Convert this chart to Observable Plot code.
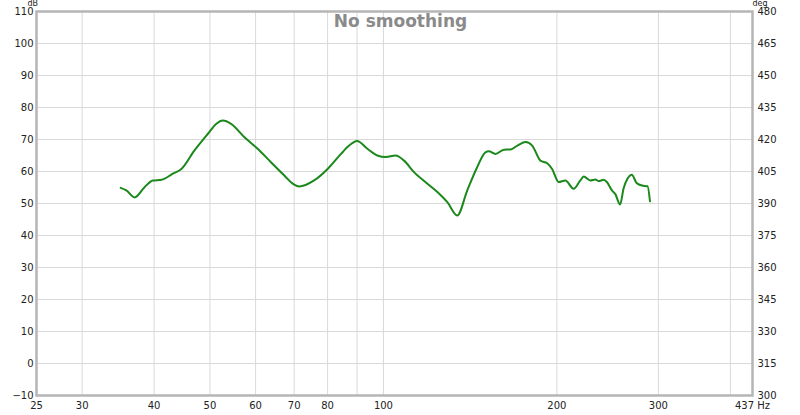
<!DOCTYPE html>
<html><head><meta charset="utf-8">
<script src="https://cdn.jsdelivr.net/npm/d3@7"></script>
<script src="https://cdn.jsdelivr.net/npm/@observablehq/plot@0.6"></script>
<style>body{margin:0;background:#fff}</style>
</head><body><div id="chart"></div>
<script>
const freq = [35.0, 35.8, 37.0, 38.5, 39.8, 41.2, 43.1, 44.6, 47.0, 49.6, 51.3, 52.6, 54.4, 57.4, 60.5, 63.8, 67.3, 69.6, 71.4, 75.8, 80.0, 84.4, 87.2, 90.0, 93.8, 97.6, 100.9, 105, 108.6, 113, 119.2, 124.2, 129.1, 134.3, 139.8, 145.5, 150.3, 152.4, 156.5, 161.8, 166.2, 170.8, 176.5, 181.2, 187.3, 192.4, 196.2, 201.4, 206.9, 213.8, 219.6, 222.6, 228.6, 233.2, 236.3, 241, 244.2, 249.2, 252.5, 257.5, 261, 265.1, 269.8, 275, 281, 287.3, 290.1];
const spl = [54.9, 54.1, 51.9, 55.1, 57.2, 57.4, 59.3, 60.8, 66.6, 71.8, 74.9, 75.9, 74.9, 70.7, 67.1, 62.9, 58.75, 56.2, 55.3, 57.2, 60.8, 65.5, 68.1, 69.5, 67.1, 65.0, 64.5, 65.0, 63.4, 59.8, 56.2, 53.5, 50.4, 46.25, 54.1, 61.4, 66.0, 66.3, 65.5, 66.8, 66.9, 68.1, 69.2, 68.1, 63.4, 62.6, 60.8, 56.7, 57.2, 54.6, 57.2, 58.4, 57.2, 57.5, 57.0, 57.4, 56.7, 54.1, 53.0, 49.7, 54.6, 57.7, 59.0, 56.4, 55.6, 55.4, 50.7];
const xTicks = [25, 30, 40, 50, 60, 70, 80, 90, 100, 200, 300, 437];
const xGrid = [30, 40, 50, 60, 70, 80, 90, 100, 200, 300, 400];
const dbTicks = [-10, 0, 10, 20, 30, 40, 50, 60, 70, 80, 90, 100, 110];
const degTicks = [300, 315, 330, 345, 360, 375, 390, 405, 420, 435, 450, 465, 480];
const title = "No smoothing";
const leftUnit = "dB";
const rightUnit = "deg";
const xUnit = "Hz";

const data = freq.map((f, i) => ({f, db: spl[i]}));
const chart = Plot.plot({
  width: 800, height: 415,
  marginLeft: 36, marginRight: 48, marginTop: 11, marginBottom: 20,
  style: {fontFamily: "DejaVu Sans", fontSize: "10px", background: "#fff", color: "#222", overflow: "visible"},
  x: {type: "log", domain: [25, 437]},
  y: {domain: [-10, 110]},
  marks: [
    Plot.gridX(xGrid, {stroke: "#d9d9d9", strokeOpacity: 1}),
    Plot.gridY(dbTicks, {stroke: "#d9d9d9", strokeOpacity: 1}),
    Plot.axisX(xTicks, {tickSize: 0, tickPadding: 6, tickFormat: d => d === 437 ? `${d} ${xUnit}` : String(d), label: null}),
    Plot.axisY(dbTicks, {anchor: "left", tickSize: 0, tickPadding: 3, tickFormat: d => String(d).replace("-", "\u2212"), label: null}),
    Plot.axisY(dbTicks, {anchor: "right", tickSize: 0, tickPadding: 5, tickFormat: d => String(degTicks[dbTicks.indexOf(d)]), label: null}),
    Plot.frame({stroke: "#b5b5b5", strokeWidth: 2.5}),
    Plot.line(data, {x: "f", y: "db", stroke: "#1a881a", strokeWidth: 2, curve: "monotone-x"}),
    Plot.text([title], {text: d => d, frameAnchor: "top", lineAnchor: "middle", dy: 10, dx: 6, fontSize: 17, fontWeight: "bold", fill: "#8a8a8a"}),
    Plot.text([leftUnit], {text: d => d, frameAnchor: "top-left", lineAnchor: "middle", dx: -9, dy: -8, fontSize: 8, fill: "#222"}),
    Plot.text([rightUnit], {text: d => d, frameAnchor: "top-right", lineAnchor: "middle", dx: 15, dy: -8, fontSize: 8, fill: "#222"})
  ]
});
document.getElementById("chart").appendChild(chart);
</script>
</body></html>
